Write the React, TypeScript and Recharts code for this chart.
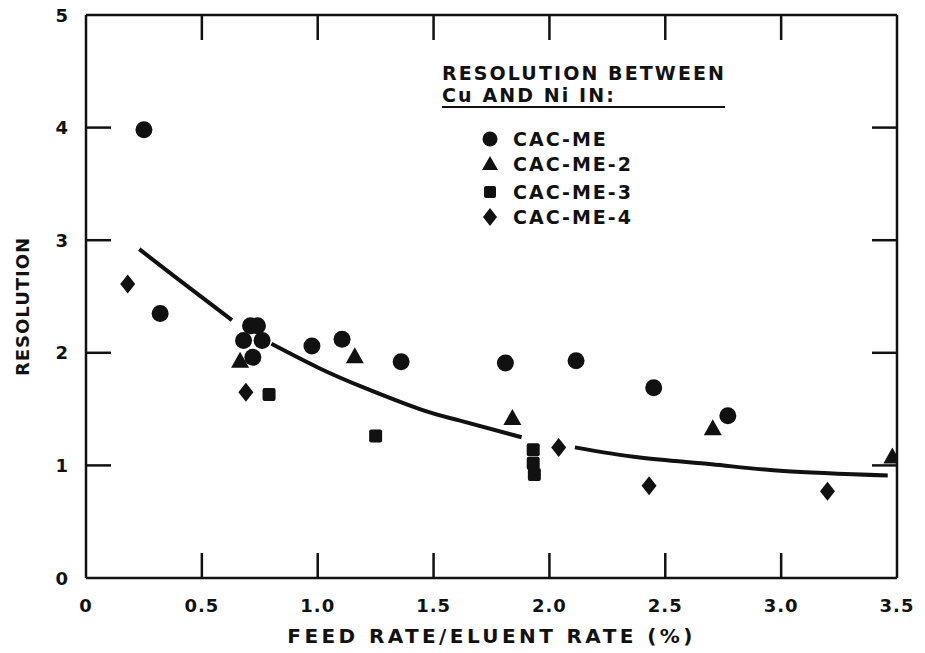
import React from "react";
import { ComposedChart, XAxis, YAxis, Scatter, Line, Legend, Label } from "recharts";

// axis ticks
const xTicks = [0, 0.5, 1.0, 1.5, 2.0, 2.5, 3.0, 3.5];
const xTickLabels = ["0", "0.5", "1.0", "1.5", "2.0", "2.5", "3.0", "3.5"];
const yTicks = [0, 1, 2, 3, 4, 5];
const yTickLabels = ["0", "1", "2", "3", "4", "5"];

// series (feed rate / eluent rate %, resolution)
const cacMe = [
  { x: 0.25, y: 3.98 },
  { x: 0.32, y: 2.35 },
  { x: 0.71, y: 2.24 },
  { x: 0.74, y: 2.24 },
  { x: 0.68, y: 2.11 },
  { x: 0.76, y: 2.11 },
  { x: 0.72, y: 1.96 },
  { x: 0.975, y: 2.06 },
  { x: 1.105, y: 2.12 },
  { x: 1.36, y: 1.92 },
  { x: 1.81, y: 1.91 },
  { x: 2.115, y: 1.93 },
  { x: 2.45, y: 1.69 },
  { x: 2.77, y: 1.44 },
];
const cacMe2 = [
  { x: 0.665, y: 1.93 },
  { x: 1.16, y: 1.97 },
  { x: 1.84, y: 1.42 },
  { x: 2.705, y: 1.33 },
  { x: 3.48, y: 1.08 },
];
const cacMe3 = [
  { x: 0.79, y: 1.63 },
  { x: 1.25, y: 1.26 },
  { x: 1.93, y: 1.14 },
  { x: 1.93, y: 1.02 },
  { x: 1.935, y: 0.92 },
];
const cacMe4 = [
  { x: 0.18, y: 2.61 },
  { x: 0.69, y: 1.65 },
  { x: 2.04, y: 1.16 },
  { x: 2.43, y: 0.82 },
  { x: 3.2, y: 0.77 },
];

// hand-drawn trend curve, broken where it passes the point clusters
const curveA = [
  { x: 0.23, y: 2.92 },
  { x: 0.4, y: 2.65 },
  { x: 0.63, y: 2.29 },
];
const curveB = [
  { x: 0.8, y: 2.08 },
  { x: 1.0, y: 1.87 },
  { x: 1.2, y: 1.69 },
  { x: 1.44, y: 1.5 },
  { x: 1.61, y: 1.4 },
  { x: 1.88, y: 1.25 },
];
const curveC = [
  { x: 2.11, y: 1.16 },
  { x: 2.39, y: 1.07 },
  { x: 2.7, y: 1.01 },
  { x: 3.01, y: 0.95 },
  { x: 3.46, y: 0.91 },
];

const seriesNames = ["CAC-ME", "CAC-ME-2", "CAC-ME-3", "CAC-ME-4"];
const legendTitle = ["RESOLUTION BETWEEN", "Cu AND Ni IN:"];

const ink = "#111";
const font = "'DejaVu Sans', sans-serif";
const TICK_LEN = 25;

const Dot = (p: any) => <circle cx={p.cx} cy={p.cy} r={8.5} fill={ink} />;
const Tri = (p: any) => (
  <polygon points={`${p.cx},${p.cy - 9} ${p.cx + 9},${p.cy + 7} ${p.cx - 9},${p.cy + 7}`} fill={ink} />
);
const Sq = (p: any) => <rect x={p.cx - 6.5} y={p.cy - 6.5} width={13} height={13} rx={2} fill={ink} />;
const Dia = (p: any) => (
  <polygon points={`${p.cx},${p.cy - 9.5} ${p.cx + 7.5},${p.cy} ${p.cx},${p.cy + 9.5} ${p.cx - 7.5},${p.cy}`} fill={ink} />
);

const LeftTick = (props: any) => {
  const { x, y, payload } = props;
  const v = payload.value;
  return (
    <g>
      {v > 0 && v < 5 && (
        <line x1={x + 18} y1={y} x2={x + 18 + TICK_LEN} y2={y} stroke={ink} strokeWidth={2.5} />
      )}
      <text x={x} y={y} textAnchor="end" dominantBaseline="central" fontFamily={font} fontWeight="bold" fontSize={18} fill={ink}>
        {yTickLabels[yTicks.indexOf(v)]}
      </text>
    </g>
  );
};

const RightTick = (props: any) => {
  const { x, y, payload } = props;
  const v = payload.value;
  if (v <= 0 || v >= 5) return <g />;
  return <line x1={x} y1={y} x2={x - TICK_LEN} y2={y} stroke={ink} strokeWidth={2.5} />;
};

const BottomTick = (props: any) => {
  const { x, y, payload } = props;
  const v = payload.value;
  return (
    <g>
      {v > 0 && v < 3.5 && (
        <line x1={x} y1={y - 27} x2={x} y2={y - 27 - TICK_LEN} stroke={ink} strokeWidth={2.5} />
      )}
      <text x={x} y={y} textAnchor="middle" dominantBaseline="central" fontFamily={font} fontWeight="bold" fontSize={18} letterSpacing={1} fill={ink}>
        {xTickLabels[xTicks.indexOf(v)]}
      </text>
    </g>
  );
};

const TopTick = (props: any) => {
  const { x, y, payload } = props;
  const v = payload.value;
  if (v <= 0 || v >= 3.5) return <g />;
  return <line x1={x} y1={y} x2={x} y2={y + TICK_LEN} stroke={ink} strokeWidth={2.5} />;
};

const markerFor = [
  <circle cx={10} cy={10} r={7.5} fill={ink} />,
  <polygon points="10,2 18,16 2,16" fill={ink} />,
  <rect x={4} y={4} width={12} height={12} rx={2} fill={ink} />,
  <polygon points="10,1 17,10 10,19 3,10" fill={ink} />,
];

const renderLegend = () => (
  <div style={{ position: "relative", width: 320, height: 180, fontFamily: font, fontWeight: "bold", color: ink }}>
    <div style={{ position: "absolute", left: 12, top: 7, fontSize: 19, letterSpacing: 2.1, lineHeight: "22px", whiteSpace: "nowrap" }}>
      {legendTitle[0]}
    </div>
    <div style={{ position: "absolute", left: 12, top: 29, fontSize: 19, letterSpacing: 2.1, lineHeight: "22px", whiteSpace: "nowrap" }}>
      {legendTitle[1]}
    </div>
    <div style={{ position: "absolute", left: 12, top: 51, width: 283, height: 2, background: ink }} />
    {seriesNames.map((name, i) => (
      <div key={name} style={{ position: "absolute", left: 50, top: [74, 99, 127, 152][i], height: 20, display: "flex", alignItems: "center", whiteSpace: "nowrap" }}>
        <svg width={20} height={20}>{markerFor[i]}</svg>
        <span style={{ marginLeft: 13, fontSize: 19, letterSpacing: 2, lineHeight: "20px" }}>{name}</span>
      </div>
    ))}
  </div>
);

export default function App() {
  return (
    <div style={{ position: "absolute", left: 0, top: 0, background: "#fff" }}>
      <ComposedChart width={925} height={653} margin={{ top: 10, right: 20, bottom: 20, left: 0 }}>
        <XAxis
          xAxisId="bottom"
          dataKey="x"
          type="number"
          domain={[0, 3.5]}
          ticks={xTicks}
          allowDataOverflow
          height={55}
          tickSize={0}
          tickMargin={27}
          tickLine={false}
          axisLine={{ stroke: ink, strokeWidth: 2.5 }}
          tick={<BottomTick />}
        >
          <Label
            content={(p: any) => (
              <text
                x={p.viewBox.x + p.viewBox.width / 2}
                y={p.viewBox.y + 58}
                textAnchor="middle"
                dominantBaseline="central"
                fontFamily={font}
                fontWeight="bold"
                fontSize={20}
                letterSpacing={3.4}
                fill={ink}
              >
                FEED RATE/ELUENT RATE (%)
              </text>
            )}
          />
        </XAxis>
        <XAxis
          xAxisId="top"
          orientation="top"
          dataKey="x"
          type="number"
          domain={[0, 3.5]}
          ticks={xTicks}
          allowDataOverflow
          height={5}
          tickSize={0}
          tickMargin={0}
          tickLine={false}
          axisLine={{ stroke: ink, strokeWidth: 2.5 }}
          tick={<TopTick />}
        />
        <YAxis
          yAxisId="left"
          dataKey="y"
          type="number"
          domain={[0, 5]}
          ticks={yTicks}
          allowDataOverflow
          width={86}
          tickSize={0}
          tickMargin={18}
          tickLine={false}
          axisLine={{ stroke: ink, strokeWidth: 2.5 }}
          tick={<LeftTick />}
        >
          <Label
            content={(p: any) => {
              const cx = 22;
              const cy = p.viewBox.y + p.viewBox.height / 2 + 10;
              return (
                <text
                  x={cx}
                  y={cy}
                  transform={`rotate(-90 ${cx} ${cy})`}
                  textAnchor="middle"
                  dominantBaseline="central"
                  fontFamily={font}
                  fontWeight="bold"
                  fontSize={18}
                  letterSpacing={1}
                  fill={ink}
                >
                  RESOLUTION
                </text>
              );
            }}
          />
        </YAxis>
        <YAxis
          yAxisId="right"
          orientation="right"
          dataKey="y"
          type="number"
          domain={[0, 5]}
          ticks={yTicks}
          allowDataOverflow
          width={8}
          tickSize={0}
          tickMargin={0}
          tickLine={false}
          axisLine={{ stroke: ink, strokeWidth: 2.5 }}
          tick={<RightTick />}
        />

        <Line xAxisId="bottom" yAxisId="left" data={curveA} dataKey="y" type="natural" stroke={ink} strokeWidth={4} dot={false} legendType="none" isAnimationActive={false} />
        <Line xAxisId="bottom" yAxisId="left" data={curveB} dataKey="y" type="natural" stroke={ink} strokeWidth={4} dot={false} legendType="none" isAnimationActive={false} />
        <Line xAxisId="bottom" yAxisId="left" data={curveC} dataKey="y" type="natural" stroke={ink} strokeWidth={4} dot={false} legendType="none" isAnimationActive={false} />

        <Scatter xAxisId="bottom" yAxisId="left" name={seriesNames[0]} data={cacMe} dataKey="y" shape={Dot} isAnimationActive={false} />
        <Scatter xAxisId="bottom" yAxisId="left" name={seriesNames[1]} data={cacMe2} dataKey="y" shape={Tri} isAnimationActive={false} />
        <Scatter xAxisId="bottom" yAxisId="left" name={seriesNames[2]} data={cacMe3} dataKey="y" shape={Sq} isAnimationActive={false} />
        <Scatter xAxisId="bottom" yAxisId="left" name={seriesNames[3]} data={cacMe4} dataKey="y" shape={Dia} isAnimationActive={false} />

        <Legend
          layout="vertical"
          align="center"
          verticalAlign="middle"
          content={renderLegend}
          wrapperStyle={{ left: 430, top: 55, width: 320, height: 180 }}
        />
      </ComposedChart>
    </div>
  );
}
